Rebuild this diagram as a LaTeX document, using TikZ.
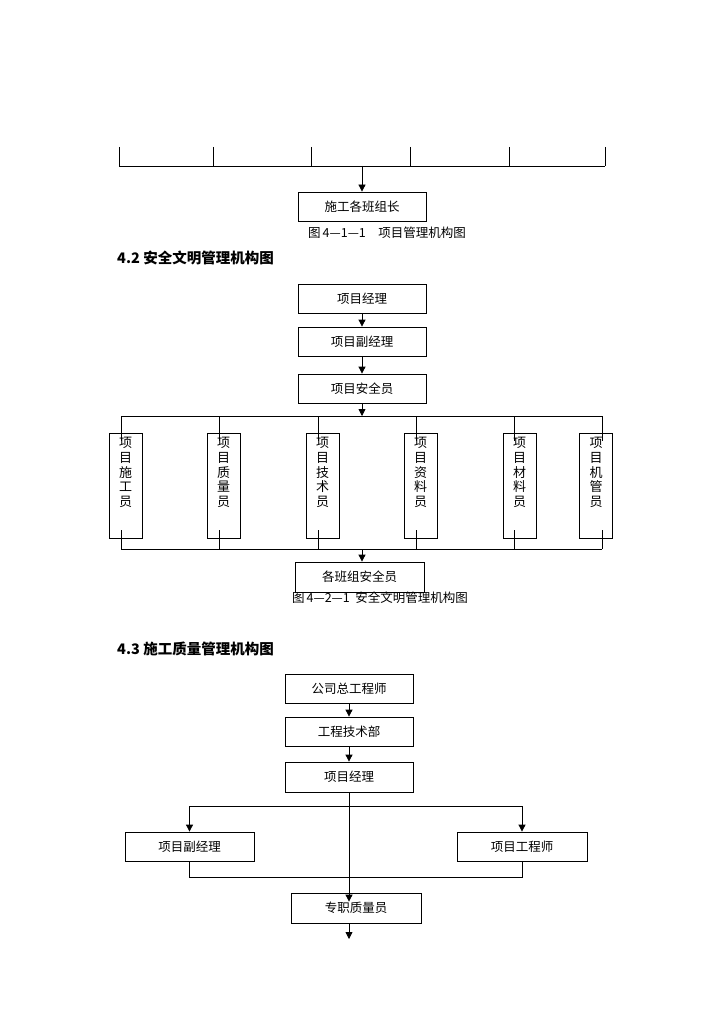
\documentclass[tikz,border=0pt]{standalone}
\usepackage{fontspec}
\setmainfont{Noto Sans CJK SC}
\usetikzlibrary{arrows.meta,calc}
\begin{document}
\begin{tikzpicture}[x=1pt,y=-1pt,
  ln/.style={line width=0.8pt,black},
  arr/.style={ln,-{Triangle[length=7pt,width=7pt]}},
  hbox/.style={draw,line width=0.8pt,minimum width=128pt,minimum height=29pt,inner sep=0pt,font=\fontsize{12.5}{14}\selectfont},
  vbox/.style={draw,line width=0.8pt,minimum width=33pt,minimum height=105pt,inner sep=0pt},
  vtxt/.style={inner sep=0pt,anchor=north,align=center,font=\fontsize{13}{14.8}\selectfont},
  captxt/.style={inner sep=0pt,font=\fontsize{12.5}{14}\selectfont},
  headtxt/.style={inner sep=0pt,anchor=west,font=\fontsize{14.5}{16}\selectfont\bfseries}]
\useasboundingbox (0,0) rectangle (724,1024);
\fill[white] (0,0) rectangle (724,1024);

% ---------- top section ----------
\foreach \i/\x in {1/119,2/213,3/311,4/410,5/509,6/605}{
  \coordinate (tt\i) at (\x,147);
  \coordinate (tb\i) at (\x,166);
  \draw[ln] (tt\i) -- (tb\i);
}
\draw[ln] (tb1) -- (tb6);
\coordinate (tmid) at (362,166);
\node[hbox] (a1) at (362,206.5) {施工各班组长};
\draw[arr] (tmid) -- (a1.north);
\node[captxt] (cap1) at (387,233) {图\,4—1—1\quad 项目管理机构图};
\node[headtxt] (h42) at (117,258) {4.2 安全文明管理机构图};

% ---------- middle section ----------
\node[hbox] (m1) at (362,298.5) {项目经理};
\node[hbox] (m2) at (362,341.5) {项目副经理};
\node[hbox] (m3) at (362,388.5) {项目安全员};
\draw[arr] (m1.south) -- (m2.north);
\draw[arr] (m2.south) -- (m3.north);
\coordinate (mbar) at (362,416);
\draw[arr] (m3.south) -- (mbar);
\foreach \i/\lx/\cx/\t in {1/121/125.5/{项\\目\\施\\工\\员},2/219/223.5/{项\\目\\质\\量\\员},3/318/322.5/{项\\目\\技\\术\\员},4/416/420.5/{项\\目\\资\\料\\员},5/514/519.5/{项\\目\\材\\料\\员},6/602/596/{项\\目\\机\\管\\员}}{
  \node[vbox] (v\i) at (\cx,485.5) {};
  \node[vtxt] (vt\i) at (\cx,437) {\t};
  \coordinate (vu\i) at (\lx,416);
  \coordinate (vd\i) at (\lx,549);
  \draw[ln] (vu\i) -- (\lx,441);
  \draw[ln] (\lx,530) -- (vd\i);
}
\draw[ln] (vu1) -- (vu6);
\draw[ln] (vd1) -- (vd6);
\coordinate (mlow) at (362,549);
\node[hbox,minimum width=129pt,minimum height=30pt] (m4) at (359.5,577) {各班组安全员};
\draw[arr] (mlow) -- (mlow |- m4.north);
\node[captxt] (cap2) at (380,598) {图\,4—2—1\ \ 安全文明管理机构图};

% ---------- bottom section ----------
\node[headtxt] (h43) at (117,649) {4.3 施工质量管理机构图};
\node[hbox] (q1) at (349,688.5) {公司总工程师};
\node[hbox] (q2) at (349,731.5) {工程技术部};
\node[hbox,minimum height=30pt] (q3) at (349,777) {项目经理};
\draw[arr] (q1.south) -- (q2.north);
\draw[arr] (q2.south) -- (q3.north);
\node[hbox,minimum width=129pt] (q4) at (189.5,846.5) {项目副经理};
\node[hbox,minimum width=130pt] (q5) at (522,846.5) {项目工程师};
\node[hbox,minimum width=130pt,minimum height=30pt] (q6) at (356,908) {专职质量员};
\coordinate (ql) at (189.5,806);
\coordinate (qr) at (522,806);
\draw[ln] (ql) -- (qr);
\draw[arr] (ql) -- (q4.north);
\draw[arr] (qr) -- (q5.north);
\coordinate (qll) at (189.5,877);
\coordinate (qrr) at (522,877);
\draw[ln] (q4.south) -- (qll) -- (qrr) -- (q5.south);
\draw[arr] (q3.south) -- ($(q3.south |- q6.north)+(0,9)$);
\coordinate (qend) at (349,939);
\draw[arr] (q3.south |- q6.south) -- (qend);
\end{tikzpicture}
\end{document}
